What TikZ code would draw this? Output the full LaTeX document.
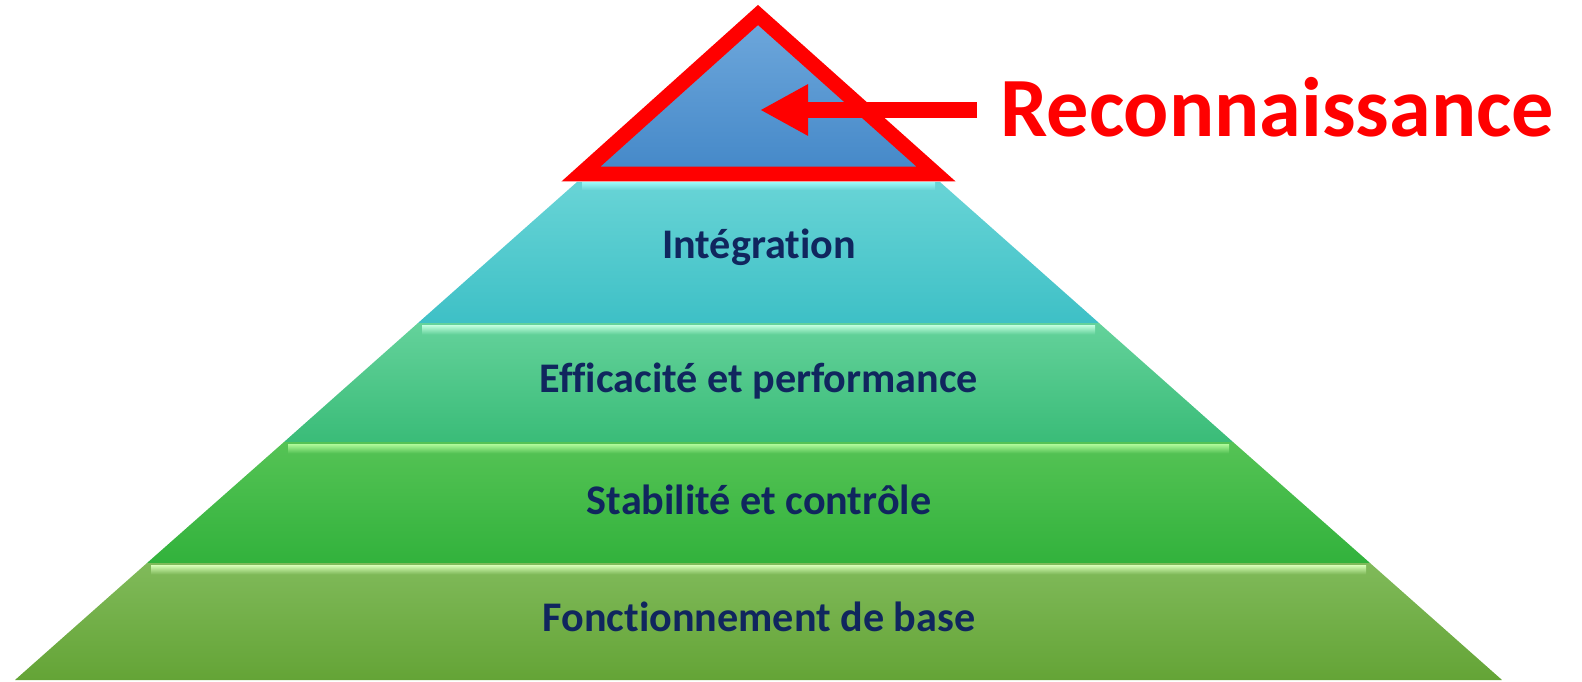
\documentclass[tikz,border=0pt]{standalone}
\usepackage{fontspec}
\setmainfont{Carlito}[RawFeature={-liga;-calt;-clig}]
\usepackage{xcolor}
\usetikzlibrary{arrows.meta,positioning}

\definecolor{navy}{RGB}{16,38,94}
\definecolor{blueTop}{RGB}{111,168,220}
\definecolor{blueBot}{RGB}{68,136,200}
\definecolor{integTop}{RGB}{104,212,214}
\definecolor{integBot}{RGB}{62,192,198}
\definecolor{integHi}{RGB}{150,245,245}
\definecolor{effTop}{RGB}{100,210,155}
\definecolor{effBot}{RGB}{58,188,120}
\definecolor{effHi}{RGB}{195,255,225}
\definecolor{stabTop}{RGB}{85,195,85}
\definecolor{stabBot}{RGB}{50,178,60}
\definecolor{stabHi}{RGB}{175,250,155}
\definecolor{baseTop}{RGB}{128,186,90}
\definecolor{baseBot}{RGB}{100,164,54}
\definecolor{baseHi}{RGB}{215,255,185}

\begin{document}
\begin{tikzpicture}[
    x=0.02cm, y=-0.02cm,
    tier/.style={font=\bfseries\fontsize{24}{28}\selectfont, text=navy, inner sep=0pt},
    recon/.style={font=\bfseries\fontsize{48}{56}\selectfont, text=red, inner sep=0pt},
    redarrow/.style={red, line width=0.32cm, -{Triangle[length=0.96cm, width=0.96cm]}}
]
\useasboundingbox (0,0) rectangle (1582,682);

% pyramid layers
\shade[top color=integTop, bottom color=integBot] (577,182) -- (940,182) -- (1099,323) -- (418,323) -- cycle;
\shade[top color=effTop, bottom color=effBot] (418,323) -- (1099,323) -- (1233,442) -- (284,442) -- cycle;
\shade[top color=stabTop, bottom color=stabBot] (284,442) -- (1233,442) -- (1370,563) -- (147,563) -- cycle;
\shade[top color=baseTop, bottom color=baseBot] (147,563) -- (1370,563) -- (1502,680) -- (15,680) -- cycle;

% highlights
\shade[top color=integHi, bottom color=integTop] (582,183) rectangle (935,190);
\shade[top color=effHi, bottom color=effTop] (422,325) rectangle (1095,334);
\shade[top color=stabHi, bottom color=stabTop] (288,444) rectangle (1229,453);
\shade[top color=baseHi, bottom color=baseTop] (151,565) rectangle (1366,574);

% top
\draw[red, line width=0.3cm, line join=miter, top color=blueTop, bottom color=blueBot] (758,15) -- (936,174) -- (581,174) -- cycle;

\node[tier] (integ) at (759,247) {Intégration};
\node[tier] (eff) at (759,381) {Efficacité et performance};
\node[tier] (stab) at (759,500) {Stabilité et contrôle};
\node[tier] (base) at (759,617) {Fonctionnement de base};

\node[recon, anchor=base west] (rec) at (1000,137) {Reconnaissance};
\coordinate (tip) at (760,110);
\draw[redarrow, shorten <=0.46cm] (tip -| rec.west) -- (tip);
\end{tikzpicture}
\end{document}
